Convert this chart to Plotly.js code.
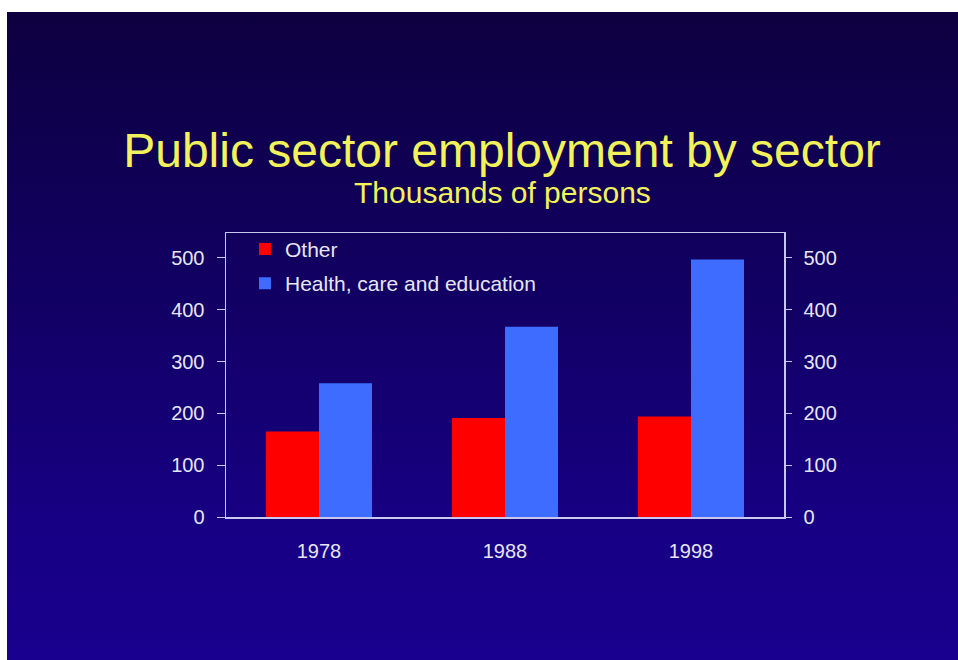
<!DOCTYPE html>
<html>
<head>
<meta charset="utf-8">
<script src="https://cdn.plot.ly/plotly-3.0.1.min.js"></script>
<style>
  html, body { margin: 0; padding: 0; background: #ffffff; width: 958px; height: 660px; overflow: hidden; }
  #bg { position: absolute; left: 7px; top: 12px; width: 951px; height: 648px;
        background: linear-gradient(to bottom, #0d0040 0%, #110060 40%, #170084 80%, #19008e 100%); }
  #chart { position: absolute; left: 0; top: 0; width: 958px; height: 660px; }
</style>
</head>
<body>
<div id="bg"></div>
<div id="chart"></div>
<script>
const years = ['1978', '1988', '1998'];
const otherValues = [165, 191, 194];
const healthValues = [258, 367, 497];
const seriesNames = ['Other', 'Health, care and education'];
const yTickValues = [0, 100, 200, 300, 400, 500];

const tickFont = { family: 'Liberation Sans, Arial, sans-serif', size: 20, color: '#e6e6f2' };

const traces = [
  { type: 'bar', name: seriesNames[0], x: years, y: otherValues,
    marker: { color: '#ff0000', line: { width: 0 } }, legendgroup: 'a', hoverinfo: 'y' },
  { type: 'bar', name: seriesNames[1], x: years, y: healthValues,
    marker: { color: '#3d6cff', line: { width: 0 } }, legendgroup: 'b', hoverinfo: 'y' },
  { type: 'scatter', mode: 'markers', x: years, y: otherValues, yaxis: 'y2',
    marker: { opacity: 0 }, showlegend: false, hoverinfo: 'skip' }
];

const layout = {
  width: 958, height: 660,
  paper_bgcolor: 'rgba(0,0,0,0)',
  plot_bgcolor: 'rgba(0,0,0,0)',
  margin: { l: 226, r: 174, t: 233, b: 143 },
  barmode: 'group', bargap: 0.43, bargroupgap: 0,
  title: {
    text: 'Public sector employment by sector',
    font: { family: 'Liberation Sans, Arial, sans-serif', size: 48, color: '#f2f25a' },
    x: 502 / 958, xanchor: 'center', xref: 'container',
    y: 1 - 150 / 660, yanchor: 'middle', yref: 'container'
  },
  annotations: [{
    text: 'Thousands of persons', showarrow: false,
    xref: 'paper', yref: 'paper', x: (502 - 226) / 558, y: (517 - 192) / 284,
    xanchor: 'center', yanchor: 'middle',
    font: { family: 'Liberation Sans, Arial, sans-serif', size: 30, color: '#f2f25a' }
  }],
  xaxis: {
    type: 'category', showline: true, linecolor: '#c8c8ee', linewidth: 1.5,
    mirror: true, ticks: '', showgrid: false, zeroline: false,
    tickfont: tickFont, ticklabelstandoff: 15, fixedrange: true
  },
  yaxis: {
    range: [0, 548], tickvals: yTickValues, ticks: 'outside', ticklen: 8,
    tickcolor: '#c8c8ee', tickwidth: 1, showline: true, linecolor: '#c8c8ee', linewidth: 1.5,
    showgrid: false, zeroline: false, tickfont: tickFont, ticklabelstandoff: 8, fixedrange: true
  },
  yaxis2: {
    range: [0, 548], tickvals: yTickValues, overlaying: 'y', side: 'right', anchor: 'x',
    ticks: 'outside', ticklen: 6, tickcolor: '#c8c8ee', tickwidth: 1,
    showline: true, linecolor: '#c8c8ee', linewidth: 1.5,
    showgrid: false, zeroline: false, tickfont: tickFont, ticklabelstandoff: 8, fixedrange: true
  },
  showlegend: true,
  legend: {
    x: 0.034, y: 1.015, xanchor: 'left', yanchor: 'top',
    bgcolor: 'rgba(0,0,0,0)', traceorder: 'grouped', tracegroupgap: 4,
    font: { family: 'Liberation Sans, Arial, sans-serif', size: 21, color: '#e6e6f2' },
    itemwidth: 30
  }
};

Plotly.newPlot('chart', traces, layout, { displayModeBar: false, staticPlot: true });
</script>
</body>
</html>
